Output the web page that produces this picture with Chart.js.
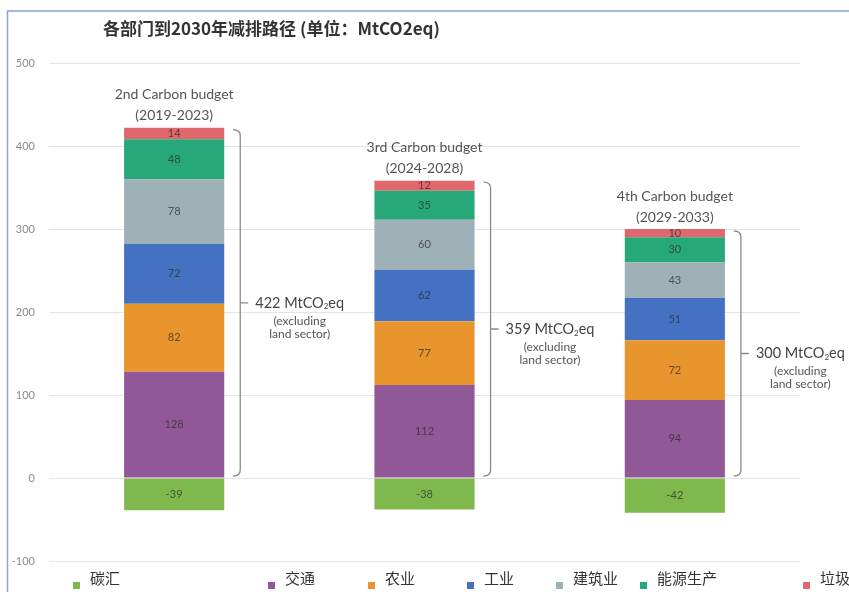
<!DOCTYPE html>
<html>
<head>
<meta charset="utf-8">
<script src="https://cdn.jsdelivr.net/npm/chart.js@4"></script>
<style>
  html, body { margin: 0; padding: 0; background: #fff; }
  #wrap { width: 849px; height: 592px; position: relative; }
</style>
</head>
<body>
<div id="wrap"><canvas id="chart"></canvas></div>
<script>
// budgets (x categories)
const budgets = ["2nd Carbon budget", "3rd Carbon budget", "4th Carbon budget"];
const periods = ["(2019-2023)", "(2024-2028)", "(2029-2033)"];
const totals = [422, 359, 300];

// sectors, bottom to top
const sectors = ["碳汇", "交通", "农业", "工业", "建筑业", "能源生产", "垃圾"];
const carbonSink = [-39, -38, -42];
const transport = [128, 112, 94];
const agriculture = [82, 77, 72];
const industry = [72, 62, 51];
const buildings = [78, 60, 43];
const energy = [48, 35, 30];
const waste = [14, 12, 10];

const yTicks = [-100, 0, 100, 200, 300, 400, 500];

const COLORS = ["#7fb94e", "#915897", "#e8952d", "#4471c2", "#9db1b6", "#27a87a", "#e0676b"];
const LEGEND_X = [73, 268, 368, 467, 556, 640, 803]; // legend is spaced unevenly in the original
const LATIN = "Lato, 'Open Sans', sans-serif";
const CJK = "'Noto Sans CJK SC', sans-serif";

const seriesValues = [carbonSink, transport, agriculture, industry, buildings, energy, waste];

function drawBracket(ctx, x, yTop, yBot) {
  const r = 6;
  const mid = (yTop + yBot) / 2;
  ctx.beginPath();
  ctx.moveTo(x - 7, yTop);
  ctx.quadraticCurveTo(x, yTop, x, yTop + r);
  ctx.lineTo(x, yBot - r);
  ctx.quadraticCurveTo(x, yBot, x - 7, yBot);
  ctx.moveTo(x, mid);
  ctx.lineTo(x + 8, mid);
  ctx.stroke();
}

const overlay = {
  id: "overlay",
  afterDatasetsDraw(chart) {
    const ctx = chart.ctx;
    const y = chart.scales.y;
    ctx.save();

    // numbers inside the segments
    ctx.textAlign = "center";
    ctx.textBaseline = "middle";
    ctx.font = "11px " + LATIN;
    ctx.fillStyle = "rgba(45,45,45,0.72)";
    chart.data.datasets.forEach((ds, i) => {
      chart.getDatasetMeta(i).data.forEach((bar, j) => {
        ctx.fillText(String(ds.data[j]), bar.x, (bar.y + bar.base) / 2);
      });
    });

    // headers above bars + brackets with totals
    const topMeta = chart.getDatasetMeta(chart.data.datasets.length - 1);
    topMeta.data.forEach((bar, j) => {
      const yTop = y.getPixelForValue(totals[j]);
      const yZero = y.getPixelForValue(0);

      ctx.fillStyle = "#555";
      ctx.font = "14px " + LATIN;
      ctx.textAlign = "center";
      ctx.fillText(budgets[j], bar.x, yTop - 33);
      ctx.fillText(periods[j], bar.x, yTop - 12);

      const bx = bar.x + bar.width / 2 + 16;
      ctx.strokeStyle = "#8a8a8a";
      ctx.lineWidth = 1.3;
      drawBracket(ctx, bx, yTop + 2, yZero - 2);

      const mid = (yTop + yZero) / 2;
      let tx = bx + 15;
      ctx.textAlign = "left";
      ctx.fillStyle = "#444";
      ctx.font = "14.5px " + LATIN;
      const a = totals[j] + " MtCO";
      ctx.fillText(a, tx, mid);
      tx += ctx.measureText(a).width;
      ctx.font = "8px " + LATIN;
      ctx.fillText("2", tx, mid + 4);
      tx += ctx.measureText("2").width;
      ctx.font = "14.5px " + LATIN;
      ctx.fillText("eq", tx, mid);
      const endX = tx + ctx.measureText("eq").width;
      const cx = (bx + 15 + endX) / 2;
      ctx.font = "12px " + LATIN;
      ctx.fillStyle = "#555";
      ctx.textAlign = "center";
      ctx.fillText("(excluding", cx, mid + 18);
      ctx.fillText("land sector)", cx, mid + 31);
    });
    ctx.restore();
  },
  afterDraw(chart) {
    const ctx = chart.ctx;
    ctx.save();
    // frame (left + top only visible)
    ctx.strokeStyle = "#8aa3d6";
    ctx.lineWidth = 1.5;
    ctx.beginPath();
    ctx.moveTo(849, 11);
    ctx.lineTo(7.5, 11);
    ctx.lineTo(7.5, 592);
    ctx.stroke();

    // title
    ctx.fillStyle = "#333";
    ctx.font = "bold 17px " + CJK;
    ctx.textAlign = "left";
    ctx.textBaseline = "middle";
    ctx.fillText("各部门到2030年减排路径 (单位：MtCO2eq)", 103, 29);

    // legend
    ctx.font = "15px " + CJK;
    sectors.forEach((name, i) => {
      ctx.fillStyle = COLORS[i];
      ctx.fillRect(LEGEND_X[i], 582, 7, 7);
      ctx.fillStyle = "#333";
      ctx.fillText(name, LEGEND_X[i] + 17, 578);
    });
    ctx.restore();
  }
};

new Chart(document.getElementById("chart"), {
  type: "bar",
  data: {
    labels: budgets,
    datasets: sectors.map((name, i) => ({
      label: name,
      data: seriesValues[i],
      backgroundColor: COLORS[i],
      borderWidth: 0,
      barPercentage: 0.4,
      categoryPercentage: 1
    }))
  },
  options: {
    animation: false,
    responsive: true,
    maintainAspectRatio: false,
    layout: { padding: { top: 63, right: 49, bottom: 31, left: 0 } },
    plugins: {
      legend: { display: false },
      tooltip: { enabled: false }
    },
    scales: {
      x: { stacked: true, display: false },
      y: {
        stacked: true,
        min: yTicks[0],
        max: yTicks[yTicks.length - 1],
        afterBuildTicks(s) { s.ticks = yTicks.map(v => ({ value: v })); },
        afterFit(s) { s.width = 49; },
        ticks: { color: "#8a8a8a", padding: 14, font: { size: 11, family: LATIN } },
        grid: { color: "#e4e4e4", drawTicks: false },
        border: { display: false }
      }
    }
  },
  plugins: [overlay]
});
</script>
</body>
</html>
